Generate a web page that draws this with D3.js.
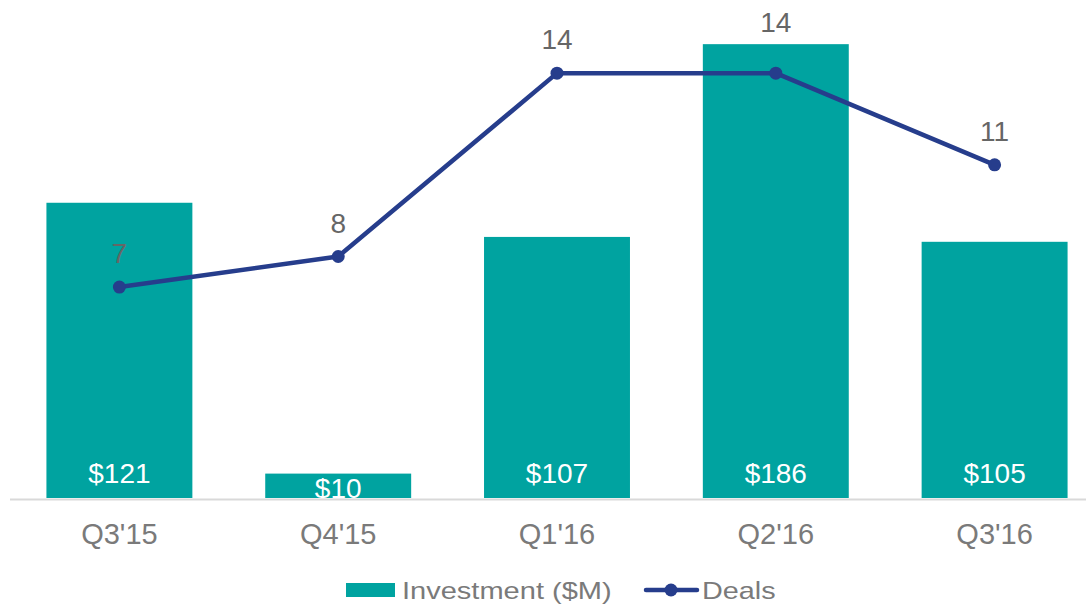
<!DOCTYPE html>
<html>
<head>
<meta charset="utf-8">
<script src="https://cdn.jsdelivr.net/npm/d3@7"></script>
<style>
  body { margin: 0; background: #fff; }
  text { font-family: "Liberation Sans", Arial, sans-serif; }
</style>
</head>
<body>
<div id="vis"></div>
<script>
var quarters = ["Q3'15", "Q4'15", "Q1'16", "Q2'16", "Q3'16"];
var investment = [121, 10, 107, 186, 105];
var deals = [7, 8, 14, 14, 11];

var width = 1086, height = 605;
var base = 498;

var teal = "#00a3a0", navy = "#263d8c";

var svg = d3.select("#vis")
    .append("svg")
    .attr("width", width)
    .attr("height", height);

// x band scale, wider than the window on the right (chart is clipped there)
var x = d3.scaleBand()
    .domain(quarters)
    .range([10, 1104])
    .paddingInner(0.333)
    .paddingOuter(0.1665);

// primary axis for bars
var y = d3.scaleLinear()
    .domain([0, 200])
    .range([base, 10]);

// secondary axis for deals
var y2 = d3.scaleLinear()
    .domain([0, 16])
    .range([501, 12]);

////////// bars //////////
var bars = svg.append("g").attr("class", "bars");

bars.selectAll("rect")
    .data(investment)
    .enter()
    .append("rect")
    .attr("x", function(d, i) { return x(quarters[i]); })
    .attr("y", function(d) { return y(d); })
    .attr("width", x.bandwidth())
    .attr("height", function(d) { return base - y(d); })
    .attr("fill", teal);

// axis line
svg.append("line")
    .attr("x1", 10)
    .attr("x2", width)
    .attr("y1", base + 1.5)
    .attr("y2", base + 1.5)
    .attr("stroke", "#d9d9d9")
    .attr("stroke-width", 2);

bars.selectAll("text")
    .data(investment)
    .enter()
    .append("text")
    .attr("x", function(d, i) { return x(quarters[i]) + x.bandwidth() / 2; })
    .attr("y", function(d) { return Math.max(base - 15, y(d) + 24); })
    .attr("text-anchor", "middle")
    .attr("fill", "#fff")
    .style("font-size", "28px")
    .text(function(d) { return "$" + d; });

// tick labels
svg.append("g")
    .attr("class", "ticks")
  .selectAll("text")
    .data(quarters)
    .enter()
    .append("text")
    .attr("x", function(d) { return x(d) + x.bandwidth() / 2; })
    .attr("y", 544)
    .attr("text-anchor", "middle")
    .attr("fill", "#7a7a7a")
    .style("font-size", "29px")
    .text(function(d) { return d; });

////////// line //////////
var cx = function(d, i) { return x(quarters[i]) + x.bandwidth() / 2; };

var line = d3.line()
    .x(cx)
    .y(function(d) { return y2(d); });

svg.append("path")
    .datum(deals)
    .attr("d", line)
    .attr("fill", "none")
    .attr("stroke", navy)
    .attr("stroke-width", 4.5)
    .attr("stroke-linejoin", "round");

svg.append("g")
  .selectAll("circle")
    .data(deals)
    .enter()
    .append("circle")
    .attr("cx", cx)
    .attr("cy", function(d) { return y2(d); })
    .attr("r", 6.5)
    .attr("fill", navy);

// deal labels: above the point, pushed above the bar top if they would straddle it
function dealLabelY(d, i) {
  var ly = y2(d) - 24;
  var top = y(investment[i]);
  if (top > ly - 21 && top < ly + 2) ly = top - 12;
  return ly;
}

svg.append("g")
  .selectAll("text")
    .data(deals)
    .enter()
    .append("text")
    .attr("x", cx)
    .attr("y", dealLabelY)
    .attr("text-anchor", "middle")
    .attr("fill", "#666")
    .style("font-size", "28px")
    .text(function(d) { return d; });

////////// legend //////////
var legend = svg.append("g").attr("class", "legend");

legend.append("rect")
    .attr("x", 346)
    .attr("y", 583)
    .attr("width", 49)
    .attr("height", 14)
    .attr("fill", teal);

legend.append("text")
    .attr("transform", "translate(402,599) scale(1.21,1)")
    .attr("fill", "#7a7a7a")
    .style("font-size", "24px")
    .text("Investment ($M)");

legend.append("line")
    .attr("x1", 646)
    .attr("x2", 697)
    .attr("y1", 590)
    .attr("y2", 590)
    .attr("stroke", navy)
    .attr("stroke-width", 4.5)
    .attr("stroke-linecap", "round");

legend.append("circle")
    .attr("cx", 671)
    .attr("cy", 590)
    .attr("r", 6.5)
    .attr("fill", navy);

legend.append("text")
    .attr("transform", "translate(702,599) scale(1.2,1)")
    .attr("fill", "#7a7a7a")
    .style("font-size", "24px")
    .text("Deals");
</script>
</body>
</html>
